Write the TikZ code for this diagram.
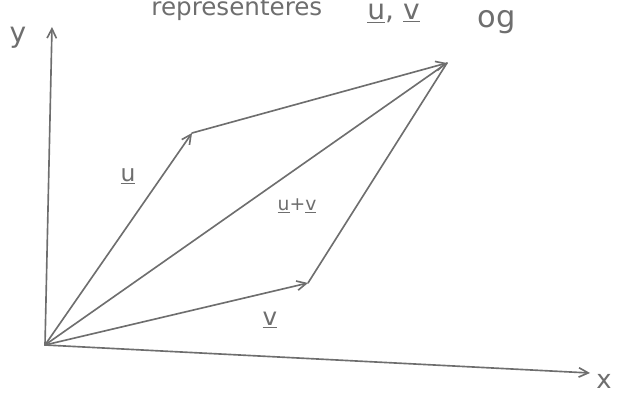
\documentclass[tikz,border=0pt]{standalone}
\usepackage{fontspec}
\setmainfont{DejaVu Sans}
\usetikzlibrary{arrows.meta}
\definecolor{pencil}{RGB}{110,110,110}
\begin{document}
\begin{tikzpicture}[x=0.03cm, y=-0.03cm, line cap=round,
  vec/.style={pencil, line width=1.4pt},
  tip/.style={-{Straight Barb[length=8pt,width=8pt]}},
  lbl/.style={text=pencil, font=\fontsize{20}{20}\selectfont, inner sep=1pt}]
\useasboundingbox (0,0) rectangle (617,394);

% axes
\coordinate (O) at (45,345);
\coordinate (ytip) at (52,27);
\coordinate (xtip) at (590,373);
\draw[vec, tip] (O) -- (ytip);
\draw[vec, tip] (O) -- (xtip);
\node[lbl, font=\fontsize{24}{24}\selectfont] (ylabel) at (18,38) {y};
\node[lbl, font=\fontsize{22}{22}\selectfont] (xlabel) at (604,381) {x};

% the parallelogram
\coordinate (U) at (192,133);
\coordinate (V) at (308,283);
\coordinate (W) at (447,63);
\draw[vec, tip] (O) -- (U);
\draw[vec, tip] (O) -- (V);
\draw[vec, tip] (U) -- (W);
\draw[vec] (V) -- (W);
\draw[vec] (O) -- (W);

% labels
\node[lbl] (ulabel) at (128,176) {\underline{u}};
\node[lbl, font=\fontsize{16}{16}\selectfont] (uvlabel) at (297,206) {\underline{u}+\underline{v}};
\node[lbl, font=\fontsize{21}{21}\selectfont] (vlabel) at (270,320) {\underline{v}};

% heading, cut off by the page edge
\node[lbl, font=\fontsize{21}{21}\selectfont, anchor=base west] (head) at (150,16) {representeres};
\node[lbl, font=\fontsize{24}{24}\selectfont, anchor=base west] (headuv) at (366,20) {\underline{u}, \underline{v}};
\node[lbl, font=\fontsize{26}{26}\selectfont, anchor=base west] (headog) at (476,28) {og};
\end{tikzpicture}
\end{document}
